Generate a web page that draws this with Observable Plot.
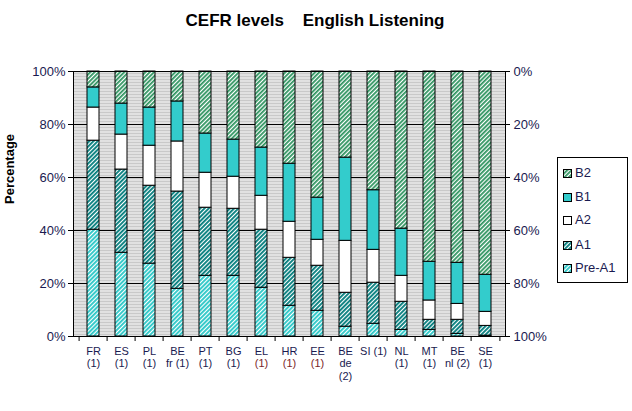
<!DOCTYPE html>
<html><head><meta charset="utf-8">
<script src="https://cdn.jsdelivr.net/npm/d3@7"></script>
<script src="https://cdn.jsdelivr.net/npm/@observablehq/plot@0.6"></script>
<style>
body{margin:0;background:#fff;font-family:'Liberation Sans',Arial,sans-serif;}
#wrap{position:relative;width:632px;height:411px;overflow:hidden;}
#wrap > svg.plot{position:absolute;left:0;top:0;}
#title{position:absolute;left:0;top:11px;width:630px;text-align:center;font-weight:bold;font-size:17px;white-space:pre;color:#000;}
#legend{position:absolute;left:557px;top:157px;width:71px;height:126px;border:1px solid #000;box-sizing:border-box;background:#fff;}
.item{position:absolute;left:5px;font-size:13px;color:#1a1a50;line-height:14px;height:14px;white-space:nowrap;}
.item svg{display:inline-block;vertical-align:-1px;margin-right:3px;}
</style></head><body>
<svg width="0" height="0" style="position:absolute">
<defs>
<pattern id="bgp" width="4" height="3" patternUnits="userSpaceOnUse"><rect width="4" height="3" fill="#f8f8f8"/><rect width="4" height="2" fill="#c9c9c9"/></pattern>
<pattern id="pB2" width="3" height="3" patternUnits="userSpaceOnUse" patternTransform="rotate(45)"><rect width="3" height="3" fill="#ffffff"/><rect width="1.8" height="3" fill="#2f9460"/></pattern>
<pattern id="pA1" width="3" height="3" patternUnits="userSpaceOnUse" patternTransform="rotate(45)"><rect width="3" height="3" fill="#ffffff"/><rect width="1.9" height="3" fill="#08807f"/></pattern>
<pattern id="pPre" width="3" height="3" patternUnits="userSpaceOnUse" patternTransform="rotate(45)"><rect width="3" height="3" fill="#ffffff"/><rect width="1.9" height="3" fill="#2fc8c8"/></pattern>
</defs></svg>
<div id="wrap"><div id="title">CEFR levels    English Listening</div><div id="legend"></div></div>
<script>
// ---- data ----
const categories = ["FR","ES","PL","BE fr","PT","BG","EL","HR","EE","BE de","SI","NL","MT","BE nl","SE"];
const categoryLabelLines = [["FR","(1)"],["ES","(1)"],["PL","(1)"],["BE","fr (1)"],["PT","(1)"],["BG","(1)"],["EL","(1)"],["HR","(1)"],["EE","(1)"],["BE","de","(2)"],["SI (1)"],["NL","(1)"],["MT","(1)"],["BE","nl (2)"],["SE","(1)"]];
const notedCategories = ["EL","HR","EE"];
const levels = ["Pre-A1","A1","A2","B1","B2"];
const preA1 = [40.3,31.6,27.5,18.0,22.9,22.9,18.4,11.6,9.7,3.7,4.8,2.5,2.5,1.0,0.3];
const a1    = [33.6,31.4,29.4,36.7,25.7,25.3,21.9,18.1,17.0,12.8,15.5,10.6,3.8,5.3,3.7];
const a2    = [12.5,13.2,15.1,18.9,13.2,12.1,12.8,13.6,9.8,19.6,12.4,9.8,7.3,6.0,5.3];
const b1    = [7.6,11.7,14.4,15.1,14.8,14.0,18.2,21.9,15.9,31.4,22.5,17.8,14.6,15.5,14.0];
const b2    = [6.0,12.1,13.6,11.3,23.4,25.7,28.7,34.8,47.6,32.5,44.8,59.3,71.8,72.2,76.7];
const yTicks = [0,20,40,60,80,100];

// ---- build ----
const series = [preA1,a1,a2,b1,b2];
const levelFill = {"Pre-A1":"url(#pPre)","A1":"url(#pA1)","A2":"#ffffff","B1":"#33cccc","B2":"url(#pB2)"};
const rows = [];
levels.forEach((lv,j)=>categories.forEach((c,i)=>rows.push({cat:c,level:lv,value:series[j][i]})));
const labelRows = [];
categoryLabelLines.forEach((lines,i)=>lines.forEach((t,k)=>labelRows.push({cat:categories[i],k,text:t,noted:k>0&&notedCategories.includes(categories[i])})));

const W=632,H=411,mL=73,mR=127,mT=71,mB=75;
const plotW=W-mL-mR;
const step=plotW/categories.length;
const navy="#1a1a50";

const lineMarks=[0,1,2].map(k=>Plot.text(labelRows.filter(r=>r.k===k),{x:"cat",text:"text",frameAnchor:"bottom",dy:18+k*12.5,fill:d=>d.noted?"#7a1e2a":navy,fontSize:11}));

const plot = Plot.plot({
  width:W,height:H,marginLeft:mL,marginRight:mR,marginTop:mT,marginBottom:mB,
  style:{fontFamily:"'Liberation Sans',Arial,sans-serif",fontSize:"13px",background:"transparent",overflow:"visible"},
  x:{domain:categories,paddingInner:0.58,paddingOuter:0.29,axis:null},
  y:{domain:[0,100],axis:null},
  color:{type:"identity"},
  marks:[
    Plot.frame({fill:"url(#bgp)",stroke:"none"}),
    Plot.ruleY(yTicks,{y:d=>d,stroke:"#000"}),
    Plot.barY(rows,{x:"cat",y:"value",fill:d=>levelFill[d.level],stroke:"#000",strokeWidth:1}),
    Plot.frame({stroke:"#000"}),
    Plot.ruleY(yTicks,{y:d=>d,stroke:"#000",insetLeft:-5,insetRight:plotW}),
    Plot.ruleY(yTicks,{y:d=>d,stroke:"#000",insetLeft:plotW,insetRight:-5}),
    Plot.ruleX(categories,{x:d=>d,y1:0,y2:0,insetBottom:-5,dx:-step/2,stroke:"#000"}),
    Plot.ruleX(categories.slice(-1),{x:d=>d,y1:0,y2:0,insetBottom:-5,dx:step/2,stroke:"#000"}),
    Plot.text(yTicks,{y:d=>d,text:d=>d+"%",frameAnchor:"left",dx:-8,textAnchor:"end",fill:navy,fontSize:13}),
    Plot.text(yTicks,{y:d=>d,text:d=>(100-d)+"%",frameAnchor:"right",dx:8,textAnchor:"start",fill:navy,fontSize:13}),
    Plot.text(["Percentage"],{text:d=>d,frameAnchor:"left",rotate:-90,dx:-64,fontWeight:"bold",fontSize:13,fill:"#000"}),
    ...lineMarks
  ]
});
plot.classList.add("plot");
document.getElementById("wrap").prepend(plot);

// legend (HTML)
const legend=document.getElementById("legend");
const legendCenters=[16,40,63,88,111];
levels.slice().reverse().forEach((lv,i)=>{
  const d=document.createElement("div");
  d.className="item";
  d.style.top=(legendCenters[i]-8)+"px";
  d.innerHTML=`<svg width="9" height="9"><rect x="0.5" y="0.5" width="8" height="8" fill="${levelFill[lv]}" stroke="#000"/></svg>${lv}`;
  legend.appendChild(d);
});
</script>
</body></html>
